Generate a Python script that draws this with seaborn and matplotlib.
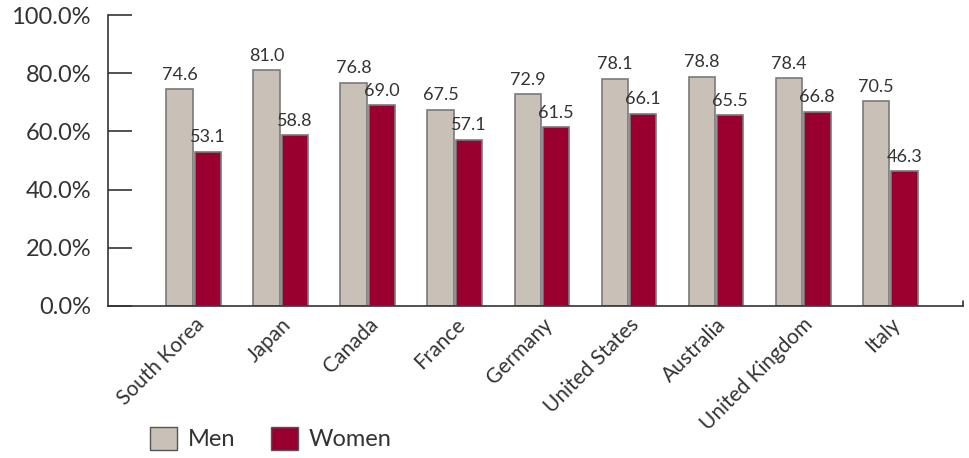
import pandas as pd
import seaborn as sns
import matplotlib.pyplot as plt
from matplotlib.ticker import FuncFormatter
from matplotlib.patches import Patch

countries = ['South Korea', 'Japan', 'Canada', 'France', 'Germany',
             'United States', 'Australia', 'United Kingdom', 'Italy']
men = [74.6, 81.0, 76.8, 67.5, 72.9, 78.1, 78.8, 78.4, 70.5]
women = [53.1, 58.8, 69.0, 57.1, 61.5, 66.1, 65.5, 66.8, 46.3]

df = pd.DataFrame({'country': countries * 2,
                   'value': men + women,
                   'sex': ['Men'] * len(men) + ['Women'] * len(women)})

sns.set_style('white')
plt.rcParams['font.family'] = ['Lato', 'DejaVu Sans']

colors = {'Men': '#c9c1b8', 'Women': '#990030'}

fig = plt.figure(figsize=(9.7, 4.58), dpi=100)
ax = fig.add_axes([0.111, 0.332, 0.882, 0.635])

sns.barplot(data=df, x='country', y='value', hue='sex', palette=colors,
            saturation=1, width=0.65, gap=0.06, edgecolor='#7a7a7a',
            linewidth=1.2, legend=False, ax=ax)

# value labels
for cont in ax.containers:
    for bar in cont:
        h = bar.get_height()
        ax.text(bar.get_x() + bar.get_width() / 2, h + 2.2, f'{h:.1f}',
                ha='center', va='bottom', fontsize=13, color='#333333')

ax.set_ylim(0, 100)
ax.set_xlim(-0.99, 8.84)
ax.set_yticks([0, 20, 40, 60, 80, 100])
ax.yaxis.set_major_formatter(FuncFormatter(lambda v, p: f'{v:.1f}%'))
ax.tick_params(axis='y', left=True, direction='in', length=17, width=1.2,
               color='#333333', labelsize=17, labelcolor='#333333', pad=12)
ax.tick_params(axis='x', bottom=False, length=0, labelsize=15,
               labelcolor='#333333', pad=6)
plt.setp(ax.get_xticklabels(), rotation=45, ha='right', rotation_mode='anchor')

for s in ['top', 'right']:
    ax.spines[s].set_visible(False)
for s in ['left', 'bottom']:
    ax.spines[s].set_color('#333333')
    ax.spines[s].set_linewidth(1.2)
ax.set_xlabel('')
ax.set_ylabel('')

# small end mark at right of the baseline
ax.plot([8.84, 8.84], [0, 1.8], color='#333333', lw=1.2, clip_on=False)

handles = [Patch(facecolor=colors[k], edgecolor='#555555', label=k) for k in ['Men', 'Women']]
fig.legend(handles=handles, loc='lower left', bbox_to_anchor=(0.133, -0.03), ncol=2,
           frameon=False, fontsize=17, handlelength=1.15, handleheight=1.15,
           columnspacing=1.5, handletextpad=0.45, labelcolor='#333333')

fig.savefig('out.png', dpi=100)
